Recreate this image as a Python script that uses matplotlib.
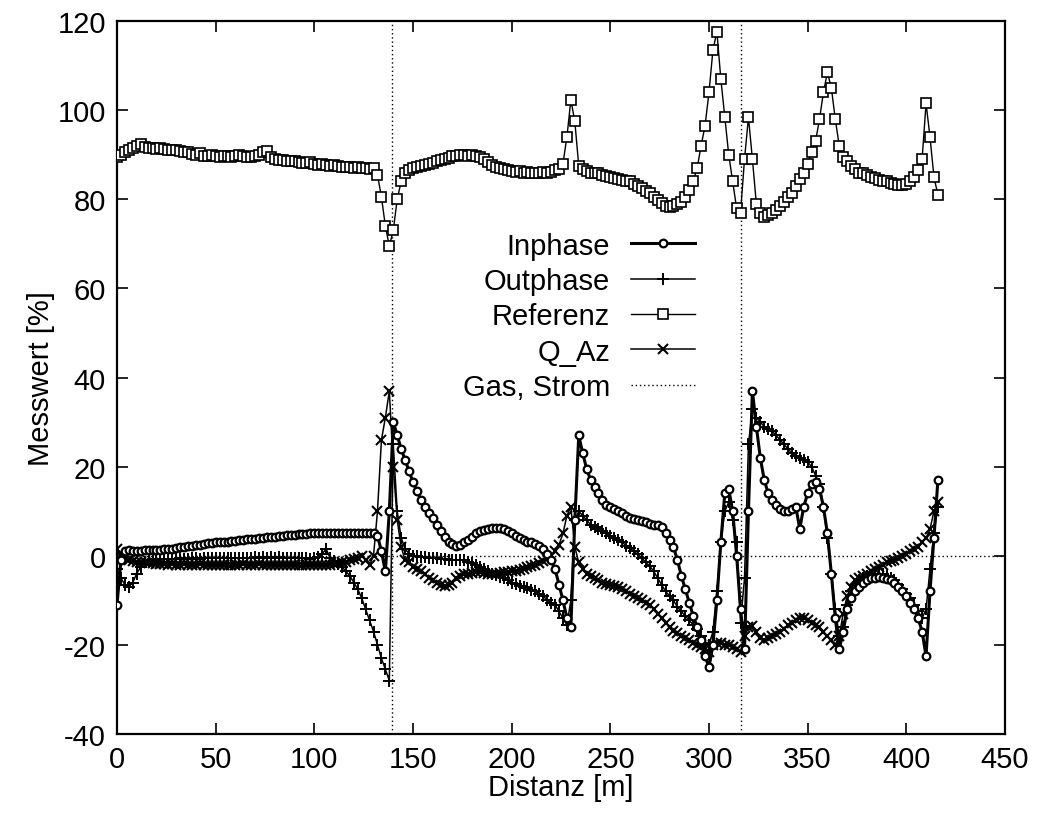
import numpy as np
import matplotlib
matplotlib.use("Agg")
import matplotlib.pyplot as plt

plt.rcParams['font.family'] = ['Liberation Sans', 'DejaVu Sans']
plt.rcParams['axes.unicode_minus'] = False

# distance grid [m], one sample every 2 m
distanz = np.arange(0, 417, 2)

referenz = [
    89.5, 90.0, 90.5, 91.0, 91.5, 92.0, 92.5, 91.8, 91.5, 91.5,
    91.3, 91.5, 91.2, 91.0, 91.0, 91.0, 90.8, 90.5, 90.5, 90.2,
    90.0, 90.3, 89.8, 89.8, 90.0, 89.8, 89.5, 89.8, 89.8, 89.5,
    89.8, 90.0, 89.6, 89.5, 89.5, 89.8, 90.0, 90.5, 90.8, 89.5,
    89.0, 88.8, 88.8, 88.6, 88.5, 88.5, 88.4, 88.2, 88.2, 88.3,
    88.0, 87.8, 88.0, 87.8, 87.5, 87.6, 87.5, 87.3, 87.2, 87.2,
    87.0, 87.3, 87.0, 87.0, 86.8, 87.0, 85.5, 80.5, 74.0, 69.5,
    73.0, 80.0, 84.0, 86.0, 86.5, 87.0, 87.2, 87.5, 87.8, 88.0,
    88.2, 88.5, 88.8, 89.0, 89.3, 89.6, 89.8, 90.0, 90.0, 89.8,
    90.0, 89.7, 89.5, 89.0, 88.3, 87.8, 87.2, 87.0, 86.8, 86.5,
    86.3, 86.2, 86.3, 86.0, 86.2, 86.0, 86.0, 86.0, 86.2, 86.0,
    86.2, 86.5, 86.8, 88.0, 94.0, 102.3, 97.5, 87.5, 86.8, 86.3,
    86.0, 86.0, 85.8, 85.5, 85.2, 85.0, 84.8, 84.5, 84.4, 84.2,
    84.0, 83.5, 83.0, 82.5, 81.8, 81.3, 80.5, 79.8, 79.2, 78.6,
    78.3, 78.5, 79.0, 79.5, 80.5, 82.0, 84.0, 87.0, 92.0, 96.5,
    104.0, 113.5, 117.6, 107.0, 98.4, 90.0, 84.0, 78.0, 77.0, 89.0,
    98.4, 89.0, 79.0, 77.0, 76.0, 76.5, 77.0, 77.5, 78.5, 79.5,
    80.5, 81.5, 83.0, 84.5, 86.0, 88.0, 90.5, 93.0, 98.0, 104.0,
    108.5, 105.0, 98.0, 92.0, 89.5, 88.5, 87.5, 86.8, 86.0, 85.8,
    85.5, 85.0, 84.8, 84.4, 84.1, 84.0, 83.6, 83.4, 83.3, 83.2,
    83.5, 84.0, 85.0, 86.5, 89.0, 101.5, 94.0, 85.0, 81.0,
]

inphase = [
    -11.0, -1.0, 1.0, 1.2, 1.0, 1.0, 1.0, 1.2, 1.2, 1.3,
    1.3, 1.4, 1.5, 1.5, 1.6, 1.8, 1.9, 2.0, 2.1, 2.3,
    2.4, 2.5, 2.6, 2.8, 2.9, 3.0, 3.0, 3.1, 3.2, 3.3,
    3.4, 3.5, 3.6, 3.7, 3.8, 3.8, 3.9, 4.0, 4.1, 4.2,
    4.3, 4.4, 4.5, 4.6, 4.6, 4.7, 4.8, 4.8, 4.9, 5.0,
    5.0, 5.0, 5.1, 5.0, 5.0, 5.1, 5.0, 5.1, 5.0, 5.0,
    5.0, 5.1, 5.0, 5.0, 5.1, 5.0, 4.5, 1.0, -3.5, 10.0,
    30.0, 27.0, 24.0, 21.5, 19.0, 16.5, 14.5, 12.5, 11.0, 9.7,
    8.5, 7.0, 5.5, 4.2, 3.2, 2.6, 2.3, 2.5, 3.0, 3.5,
    4.2, 5.0, 5.5, 5.8, 6.0, 6.2, 6.3, 6.2, 6.0, 5.5,
    5.0, 4.5, 4.0, 3.5, 3.2, 3.0, 2.7, 2.3, 1.5, 0.5,
    -1.0, -3.0, -6.5, -10.0, -14.0, -16.0, 8.0, 27.0, 23.0, 19.5,
    17.0, 15.5, 14.0, 12.5, 11.5, 11.0, 10.5, 10.0, 9.5, 9.0,
    8.5, 8.2, 8.0, 7.8, 7.5, 7.2, 7.0, 6.8, 6.5, 5.0,
    3.5, 2.0, -1.0, -4.5, -7.5, -10.5, -13.5, -16.0, -19.0, -22.5,
    -25.0, -20.0, -10.0, 3.0, 14.0, 15.0, 10.0, 0.0, -12.0, -21.0,
    10.0, 37.0, 29.0, 22.0, 17.0, 14.0, 12.5, 11.5, 10.5, 10.0,
    10.0, 10.5, 11.0, 6.0, 11.0, 14.0, 16.0, 16.5, 15.0, 11.0,
    5.0, -4.0, -14.0, -21.0, -17.0, -12.0, -9.5, -8.0, -7.0, -6.0,
    -5.5, -5.0, -5.0, -4.8, -5.0, -5.2, -5.5, -6.0, -7.0, -8.0,
    -9.0, -10.5, -12.0, -14.0, -17.0, -22.5, -8.0, 4.0, 17.0,
]

outphase = [
    -3.0, -5.0, -6.5, -7.0, -6.0, -4.0, -2.5, -1.5, -1.0, -1.0,
    -0.8, -0.8, -0.7, -0.8, -0.8, -0.7, -0.6, -0.7, -0.8, -0.6,
    -0.6, -0.7, -0.6, -0.5, -0.6, -0.5, -0.6, -0.5, -0.4, -0.5,
    -0.4, -0.5, -0.4, -0.5, -0.4, -0.3, -0.4, -0.3, -0.4, -0.3,
    -0.4, -0.3, -0.4, -0.5, -0.4, -0.5, -0.6, -0.5, -0.6, -0.7,
    -0.6, -0.3, 0.5, 1.5, -0.5, -1.2, -1.8, -2.5, -3.5, -4.5,
    -6.0, -7.5, -9.5, -12.0, -14.5, -17.0, -20.0, -23.0, -25.5, -28.0,
    25.0, 10.0, 4.0, 1.5, 0.5, 0.0, 0.0, -0.2, -0.3, -0.5,
    -0.5, -0.6, -0.7, -0.8, -0.9, -1.0, -1.0, -1.0, -1.0, -1.3,
    -1.6, -2.0, -2.5, -3.0, -3.5, -4.0, -4.3, -4.7, -5.0, -5.5,
    -6.0, -6.3, -6.7, -7.0, -7.3, -7.6, -8.0, -8.5, -9.0, -10.0,
    -10.5, -11.0, -12.5, -14.0, -15.5, -10.0, 8.0, 10.0, 9.0, 8.0,
    7.0, 6.5, 6.0, 5.5, 5.0, 4.5, 4.0, 3.5, 3.0, 2.3,
    1.7, 1.0, 0.3, -0.5, -1.5, -2.3, -3.5, -5.0, -6.5, -8.0,
    -9.0, -10.0, -11.5, -12.5, -13.5, -14.5, -15.5, -16.5, -18.0, -19.5,
    -20.0, -17.0, -8.0, 3.0, 10.0, 12.0, 8.0, 3.0, -15.0, -5.0,
    25.0, 33.0, 31.0, 30.0, 29.0, 28.5, 28.0, 27.0, 26.0, 25.0,
    24.0, 23.0, 22.5, 22.0, 21.5, 21.0, 20.0, 18.0, 16.0, 11.0,
    4.0, -4.0, -12.0, -18.0, -16.0, -11.0, -8.0, -6.5, -5.5, -5.0,
    -4.5, -4.3, -4.0, -4.0, -4.2, -4.5, -5.0, -5.5, -6.5, -7.5,
    -8.5, -9.5, -11.0, -12.5, -14.0, -12.0, -3.0, 5.0, 11.0,
]

q_az = [
    1.5, 0.0, -0.5, -1.0, -1.2, -1.3, -1.5, -1.5, -1.6, -1.7,
    -1.8, -1.8, -1.9, -2.0, -1.9, -2.0, -2.0, -1.9, -2.0, -2.0,
    -2.0, -1.9, -2.0, -2.0, -2.1, -2.0, -2.0, -2.1, -2.0, -2.0,
    -2.0, -2.0, -1.9, -2.0, -2.0, -2.0, -1.9, -2.0, -2.0, -2.1,
    -2.0, -2.0, -2.0, -2.1, -2.0, -2.0, -2.0, -2.0, -2.0, -2.0,
    -2.0, -2.0, -2.0, -2.0, -2.0, -1.8, -1.6, -1.5, -1.3, -1.0,
    -0.8, -0.5, 0.0, -1.0, -2.0, 0.0, 10.0, 26.0, 31.0, 37.0,
    20.0, 8.0, 2.0, -1.0, -1.5, -2.5, -3.0, -3.5, -4.0, -5.0,
    -5.5, -6.0, -6.5, -6.8, -6.5, -6.0, -5.0, -4.5, -4.0, -4.0,
    -3.8, -3.7, -3.7, -3.8, -4.0, -4.0, -4.0, -3.8, -3.7, -3.6,
    -3.5, -3.5, -3.2, -3.0, -2.6, -2.3, -2.0, -1.6, -1.2, -0.8,
    0.0, 1.0, 2.5, 5.0, 9.0, 11.0, 2.0, -1.5, -3.0, -4.0,
    -4.5, -5.0, -5.5, -6.0, -6.3, -6.5, -6.8, -7.0, -7.5, -8.0,
    -8.5, -9.0, -9.5, -10.0, -10.5, -11.0, -12.0, -13.0, -14.0, -15.0,
    -16.0, -16.8, -17.3, -18.0, -18.5, -19.0, -19.5, -20.0, -20.5, -21.0,
    -21.5, -20.0, -19.5, -19.5, -20.0, -20.0, -20.5, -21.0, -21.5, -18.0,
    -16.0, -15.7, -17.0, -18.5, -19.0, -18.5, -18.0, -17.5, -17.0, -16.5,
    -15.5, -15.0, -14.5, -14.0, -14.0, -14.5, -15.0, -15.5, -16.0, -17.0,
    -18.0, -19.0, -20.0, -18.0, -13.0, -9.0, -7.0, -5.5, -5.0, -4.5,
    -4.0, -3.5, -3.0, -2.5, -2.0, -1.5, -1.2, -1.0, -0.5, 0.0,
    0.5, 1.0, 1.5, 2.0, 3.0, 4.0, 6.0, 10.0, 12.0,
]

# positions of gas / power line crossings [m]
gas_strom = [139.5, 316]

x_lim = (0, 450)
y_lim = (-40, 120)

fig = plt.figure(figsize=(10.41, 8.28), dpi=100)
ax = fig.add_axes([0.1124, 0.1123, 0.8530, 0.8611])

ax.axhline(0, color='k', linestyle=(0, (1, 2)), linewidth=1.0, zorder=1)

ax.plot(distanz, inphase, color='k', linewidth=2.2, marker='o', markersize=5.5,
        markerfacecolor='white', markeredgewidth=1.6, label='Inphase', zorder=4)
ax.plot(distanz, outphase, color='k', linewidth=1.1, marker='+', markersize=8,
        markeredgewidth=1.4, label='Outphase', zorder=3)
ax.plot(distanz, referenz, color='k', linewidth=1.0, marker='s', markersize=7,
        markerfacecolor='white', markeredgewidth=1.2, label='Referenz', zorder=3)
ax.plot(distanz, q_az, color='k', linewidth=1.1, marker='x', markersize=7.5,
        markeredgewidth=1.5, label='Q_Az', zorder=3)
ax.vlines(gas_strom, y_lim[0], y_lim[1], colors='k', linestyles=(0, (1, 2)),
          linewidth=1.0, label='Gas, Strom', zorder=2)

ax.set_xlim(*x_lim)
ax.set_ylim(*y_lim)
ax.set_xticks(np.arange(0, 451, 50))
ax.set_yticks(np.arange(-40, 121, 20))
ax.tick_params(direction='in', length=8, width=1.2, top=True, right=True,
               labelsize=21, pad=8)
for s in ax.spines.values():
    s.set_linewidth(1.6)

ax.set_xlabel('Distanz [m]', fontsize=21, labelpad=0)
ax.set_ylabel('Messwert [%]', fontsize=21, labelpad=2)

leg = ax.legend(loc='upper right', bbox_to_anchor=(0.667, 0.725),
                markerfirst=False, frameon=False, fontsize=21, numpoints=1,
                handlelength=2.2, handletextpad=0.7, labelspacing=0.25,
                borderpad=0)

fig.savefig('out.png', dpi=100)
